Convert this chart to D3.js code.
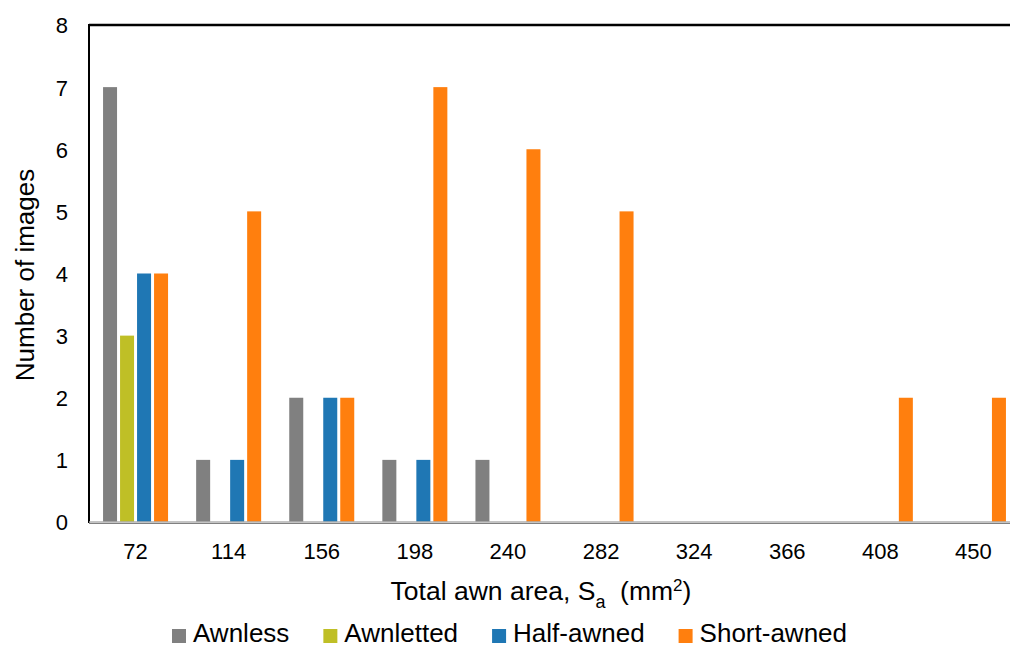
<!DOCTYPE html>
<html><head><meta charset="utf-8">
<script src="https://cdn.jsdelivr.net/npm/d3@7"></script>
<style>body{margin:0;background:#fff}svg{display:block;font-family:"Liberation Sans",Arial,sans-serif}</style>
</head><body>
<svg id="c" width="1010" height="648"></svg>
<script>
const categories = ["72","114","156","198","240","282","324","366","408","450"];
const seriesNames = ["Awnless","Awnletted","Half-awned","Short-awned"];
const awnless    = [7,1,2,1,1,0,0,0,0,0];
const awnletted  = [3,0,0,0,0,0,0,0,0,0];
const halfAwned  = [4,1,2,1,0,0,0,0,0,0];
const shortAwned = [4,5,2,7,6,5,0,0,2,2];
const colors = ["#808080","#bfbf26","#1f77b4","#ff7f0e"];
const yTicks = [0,1,2,3,4,5,6,7,8];

const values = [awnless, awnletted, halfAwned, shortAwned];
const svg = d3.select("#c");
const L = 89, T = 25, B = 522, Rfull = 1020, W = 1010;
const FF = "Liberation Sans, Arial, sans-serif";

const x = d3.scaleBand().domain(categories).range([L, Rfull]).padding(0);
const bw = x.bandwidth();
const xs = d3.scaleBand().domain(seriesNames)
  .range([(bw-68)/2, (bw+68)/2]).paddingInner(3/17).paddingOuter(3/34);
const y = d3.scaleLinear().domain([0,8]).range([B, T]);

const data = [];
seriesNames.forEach((s,i)=>categories.forEach((c,j)=>data.push({s, c, v: values[i][j], col: colors[i]})));

svg.append("g").selectAll("rect").data(data.filter(d=>d.v>0)).join("rect")
  .attr("x", d=>x(d.c)+xs(d.s)).attr("width", xs.bandwidth())
  .attr("y", d=>y(d.v)).attr("height", d=>y(0)-y(d.v))
  .attr("fill", d=>d.col);

// frame
svg.append("line").attr("x1",L).attr("x2",W).attr("y1",T).attr("y2",T).attr("stroke","#000").attr("stroke-width",2.5);
svg.append("line").attr("x1",L).attr("x2",L).attr("y1",T-1).attr("y2",B+1).attr("stroke","#000").attr("stroke-width",2);
svg.append("line").attr("x1",L).attr("x2",W).attr("y1",B).attr("y2",B).attr("stroke","#b0b0b0").attr("stroke-width",1.5);
svg.append("line").attr("x1",L).attr("x2",W).attr("y1",B+1.5).attr("y2",B+1.5).attr("stroke","#808080").attr("stroke-width",1);

// y axis labels
const ya = svg.append("g").attr("transform",`translate(68,0)`)
  .call(d3.axisLeft(y).tickValues(yTicks).tickSize(0).tickPadding(0).tickFormat(d3.format("d")));
ya.select(".domain").remove();
ya.selectAll("text").attr("font-size",22).attr("fill","#000").attr("font-family",FF).attr("dy","0.36em");

// x axis labels
const xa = svg.append("g").attr("transform",`translate(0,${B})`)
  .call(d3.axisBottom(x).tickSize(0).tickPadding(0));
xa.select(".domain").remove();
xa.selectAll("text").attr("font-size",22).attr("fill","#000").attr("font-family",FF).attr("dy",null).attr("y",37);

// x title
const xt = svg.append("text").attr("x",541).attr("y",600).attr("text-anchor","middle").attr("font-size",26.5).attr("fill","#000").attr("font-family",FF);
xt.append("tspan").text("Total awn area, S");
xt.append("tspan").text("a").attr("font-size",18).attr("dy",8);
xt.append("tspan").text("\u00a0 (mm").attr("dy",-8);
xt.append("tspan").text("2").attr("font-size",17).attr("dy",-9);
xt.append("tspan").text(")").attr("dy",9);

// y title
svg.append("text").attr("transform","translate(34,275) rotate(-90)").attr("text-anchor","middle")
  .attr("font-size",26).attr("fill","#000").attr("font-family",FF).text("Number of images");

// legend
const lg = svg.append("g");
let lx = 172;
seriesNames.forEach((s,i)=>{
  lg.append("rect").attr("x",lx).attr("y",629).attr("width",14).attr("height",14).attr("fill",colors[i]);
  const t = lg.append("text").attr("x",lx+21).attr("y",642).attr("font-size",26).attr("fill","#000").attr("font-family",FF).text(s);
  lx += 21 + t.node().getComputedTextLength() + 34;
});
</script>
</body></html>
